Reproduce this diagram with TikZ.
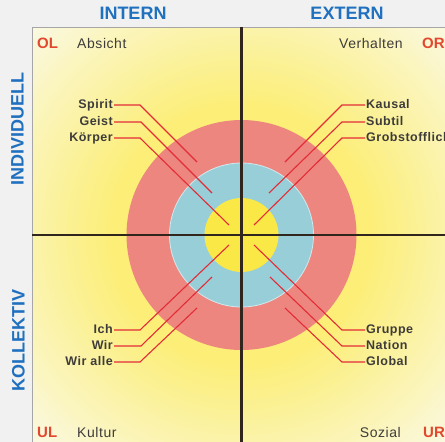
\documentclass[tikz,border=0pt]{standalone}
\usepackage{fontspec}
\setmainfont{Liberation Sans}
\newfontfamily\spaced[LetterSpace=4]{Liberation Sans}
\definecolor{margingray}{RGB}{240,241,240}
\definecolor{glowin}{RGB}{252,238,118}
\definecolor{glowout}{RGB}{250,249,234}
\definecolor{ringred}{RGB}{238,134,128}
\definecolor{ringblue}{RGB}{152,206,216}
\definecolor{coreyellow}{RGB}{250,232,70}
\definecolor{leadred}{RGB}{226,44,56}
\definecolor{headblue}{RGB}{32,112,192}
\definecolor{codered}{RGB}{226,72,48}
\definecolor{labelgray}{RGB}{62,60,58}
\definecolor{divider}{RGB}{48,38,30}
\begin{document}
\begin{tikzpicture}[x=1pt,y=-1pt,
  lbl/.style={font=\spaced\fontsize{12.5}{14}\bfseries, text=labelgray, inner sep=1pt, text height=.72em, text depth=0pt},
  word/.style={font=\spaced\fontsize{14}{16}\selectfont, text=labelgray, inner sep=0pt},
  code/.style={font=\fontsize{15}{17}\bfseries, text=codered, inner sep=0pt},
  head/.style={font=\fontsize{18}{20}\bfseries, text=headblue, inner sep=0pt, text height=.72em, text depth=0pt},
  leader/.style={draw=leadred, line width=1.1pt},
  sep/.style={draw=divider, line width=2.4pt}]
  \useasboundingbox (0,0) rectangle (445,442);
  \fill[margingray] (0,0) rectangle (445,442);
  \coordinate (c) at (241.5,235);
  % background glow inside the frame
  \begin{scope}
    \clip (32,27) rectangle (450,450);
    \fill[glowout] (32,27) rectangle (450,450);
    \foreach \i in {0,...,36} {
      \pgfmathtruncatemacro\pp{100*\i/36}
      \fill[glowin!\pp!glowout] (c) circle (310-5*\i);
    }
  \end{scope}
  \draw[gray!70, line width=0.6pt] (32,442) -- (32,27) -- (445,27);
  % rings
  \fill[ringred] (c) circle (115);
  \filldraw[fill=ringblue, draw=white!55!ringblue, line width=0.8pt] (c) circle (72);
  \fill[coreyellow] (c) circle (37);
  % quadrant lines
  \coordinate (vtop) at (241.5,27);
  \coordinate (vbot) at (241.5,442);
  \coordinate (hleft) at (32,235);
  \coordinate (hright) at (445,235);
  \draw[sep] (vtop) -- (vbot);
  \draw[sep] (hleft) -- (hright);
  % headers
  \node[head] (intern) at (133,16) {INTERN};
  \node[head] (extern) at (347,16) {EXTERN};
  \node[head, rotate=90] (indiv) at (20,129) {INDIVIDUELL};
  \node[head, rotate=90] (kollek) at (21,340) {KOLLEKTIV};
  % corners
  \node[code, anchor=base west] (ol) at (37,48) {OL};
  \node[word, anchor=base west] (absicht) at (77,48) {Absicht};
  \node[word, anchor=base east] (verhalten) at (403,48) {Verhalten};
  \node[code, anchor=base west] (or) at (422,48) {OR};
  \node[code, anchor=base west] (ul) at (37,437) {UL};
  \node[word, anchor=base west] (kultur) at (77,437) {Kultur};
  \node[word, anchor=base east] (sozial) at (401,437) {Sozial};
  \node[code, anchor=base west] (ur) at (423,437) {UR};
  % upper left
  \node[lbl, anchor=east] (spirit) at (114,105) {Spirit};
  \node[lbl, anchor=east] (geist) at (114,122) {Geist};
  \node[lbl, anchor=east] (koerper) at (114,138) {Körper};
  \coordinate (spiritk) at (140,105); \coordinate (spirite) at (197,162);
  \coordinate (geistk) at (141,122); \coordinate (geiste) at (212,193);
  \coordinate (koerperk) at (140,138); \coordinate (koerpere) at (229,225);
  \draw[leader] (spirit.east) -- (spiritk) -- (spirite);
  \draw[leader] (geist.east) -- (geistk) -- (geiste);
  \draw[leader] (koerper.east) -- (koerperk) -- (koerpere);
  % upper right
  \node[lbl, anchor=west] (kausal) at (365,105) {Kausal};
  \node[lbl, anchor=west] (subtil) at (365,122) {Subtil};
  \node[lbl, anchor=west] (grob) at (365,138) {Grobstofflich};
  \coordinate (kausalk) at (342,105); \coordinate (kausale) at (285,162);
  \coordinate (subtilk) at (342,122); \coordinate (subtile) at (269,193);
  \coordinate (grobk) at (342,138); \coordinate (grobe) at (254,225);
  \draw[leader] (kausal.west) -- (kausalk) -- (kausale);
  \draw[leader] (subtil.west) -- (subtilk) -- (subtile);
  \draw[leader] (grob.west) -- (grobk) -- (grobe);
  % lower left
  \node[lbl, anchor=east] (ich) at (114,330) {Ich};
  \node[lbl, anchor=east] (wir) at (114,346) {Wir};
  \node[lbl, anchor=east] (wiralle) at (114,362) {Wir alle};
  \coordinate (ichk) at (140,330); \coordinate (iche) at (229,245);
  \coordinate (wirk) at (141,346); \coordinate (wire) at (212,277);
  \coordinate (wiralk) at (140,362); \coordinate (wirale) at (197,308);
  \draw[leader] (ich.east) -- (ichk) -- (iche);
  \draw[leader] (wir.east) -- (wirk) -- (wire);
  \draw[leader] (wiralle.east) -- (wiralk) -- (wirale);
  % lower right
  \node[lbl, anchor=west] (gruppe) at (365,330) {Gruppe};
  \node[lbl, anchor=west] (nation) at (365,346) {Nation};
  \node[lbl, anchor=west] (global) at (365,362) {Global};
  \coordinate (gruppek) at (342,330); \coordinate (gruppee) at (254,245);
  \coordinate (nationk) at (342,346); \coordinate (natione) at (270,277);
  \coordinate (globalk) at (342,362); \coordinate (globale) at (285,308);
  \draw[leader] (gruppe.west) -- (gruppek) -- (gruppee);
  \draw[leader] (nation.west) -- (nationk) -- (natione);
  \draw[leader] (global.west) -- (globalk) -- (globale);
\end{tikzpicture}
\end{document}
